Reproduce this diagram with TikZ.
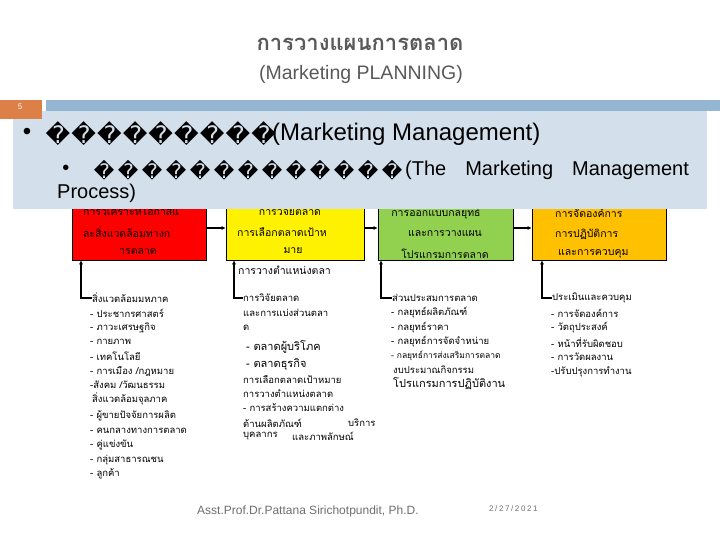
\documentclass[tikz,border=0pt]{standalone}
\usepackage{fontspec}
\setmainfont{Liberation Sans}
\newfontfamily\thai[Script=Thai]{Loma}
\newfontfamily\dvs{DejaVu Sans}
\usetikzlibrary{arrows.meta}
\definecolor{paneblue}{HTML}{D3DFEA}
\definecolor{barblue}{HTML}{94B6D2}
\definecolor{taborange}{HTML}{DD8047}
\definecolor{titlegrey}{HTML}{595959}
\definecolor{footgrey}{HTML}{6E6E6E}
\definecolor{boxgreen}{HTML}{92D050}
\definecolor{boxamber}{HTML}{FFC000}
\newcommand\tofu[1]{\makebox[#1]{\dvs\char"FFFD}}
\begin{document}
\begin{tikzpicture}[x=1pt,y=-1pt,
  th/.style={font=\thai\fontsize{9.5}{11}\selectfont, inner sep=0pt, anchor=west},
  thbig/.style={font=\thai\fontsize{11}{12}\selectfont, inner sep=0pt, anchor=west},
  thsmall/.style={font=\thai\fontsize{8.5}{10}\selectfont, inner sep=0pt, anchor=west},
  bt/.style={font=\thai\fontsize{10.5}{12}\selectfont, inner sep=0pt},
  stagebox/.style={draw=black, line width=0.6pt, minimum height=64pt, inner sep=0pt},
  link/.style={line width=1.6pt, -{Latex[length=4pt,width=4pt]}},
  ]
\useasboundingbox (0,0) rectangle (720,540);
% title
\node[font=\thai\bfseries\fontsize{22}{25}\selectfont, text=titlegrey] (title) at (360,44) {การวางแผนการตลาด};
\node[font=\fontsize{19.5}{22}\selectfont, text=titlegrey] (subtitle) at (361,74) {(Marketing PLANNING)};
% stage boxes
\node[stagebox, fill=red, minimum width=134pt] (b1) at (139,228) {};
\node[stagebox, fill=yellow, minimum width=138pt] (b2) at (295,228) {};
\node[stagebox, fill=boxgreen, minimum width=135pt] (b3) at (445.5,228) {};
\node[stagebox, fill=boxamber, minimum width=134pt] (b4) at (599,228) {};
\draw[link] (b1.east) -- (b2.west);
\draw[link] (b2.east) -- (b3.west);
\draw[link] (b3.east) -- (b4.west);
% box texts
\node[bt, anchor=west] (b1a) at (83,211) {การวิเคราะห์โอกาสแ};
\node[bt, anchor=west] (b1b) at (83,232) {ละสิ่งแวดล้อมทางก};
\node[bt] (b1c) at (138,252) {ารตลาด};
\node[bt] (b2a) at (290,211) {การวิจัยตลาด};
\node[bt, anchor=west] (b2b) at (237,232) {การเลือกตลาดเป้าห};
\node[bt] (b2c) at (293,251) {มาย};
\node[bt, anchor=west] (b2d) at (238,270) {การวางตำแหน่งตลา};
\node[bt] (b3a) at (436,213) {การออกแบบกลยุทธ์};
\node[bt] (b3b) at (445,234) {และการวางแผน};
\node[bt] (b3c) at (445,254) {โปรแกรมการตลาด};
\node[bt, anchor=west] (b4a) at (555,213) {การจัดองค์การ};
\node[bt, anchor=west] (b4b) at (555,234) {การปฏิบัติการ};
\node[bt, anchor=west] (b4c) at (558,254) {และการควบคุม};
% header panel
\fill[paneblue] (13,111) rectangle (707,209);
\fill[barblue] (46,100) rectangle (720,111);
\fill[taborange] (0,100) rectangle (42,119);
\node[font=\fontsize{8}{9}\selectfont, text=white, inner sep=0pt] (pnum) at (20,107) {5};
\node[font=\fontsize{24}{26}\selectfont, inner sep=0pt] (bul1) at (27,134) {•};
\node[font=\fontsize{24}{26}\selectfont, inner sep=0pt, anchor=west] (l1a) at (45,134) {\tofu{25.7pt}\tofu{25.7pt}\tofu{25.7pt}\tofu{25.7pt}\tofu{25.7pt}\tofu{25.7pt}\tofu{25.7pt}\tofu{25.7pt}\tofu{25.7pt}};
\node[font=\fontsize{24}{26}\selectfont, inner sep=0pt, anchor=west] (l1b) at (272,134) {(Marketing Management)};
\node[font=\fontsize{20}{22}\selectfont, inner sep=0pt] (bul2) at (66,170) {•};
\node[font=\fontsize{20}{22}\selectfont, inner sep=0pt, anchor=west] (l2a) at (92,170) {\tofu{24pt}\tofu{24pt}\tofu{24pt}\tofu{24pt}\tofu{24pt}\tofu{24pt}\tofu{24pt}\tofu{24pt}\tofu{24pt}\tofu{24pt}\tofu{24pt}\tofu{24pt}\tofu{24pt}};
\node[font=\fontsize{20}{22}\selectfont, inner sep=0pt, anchor=west] (l2b) at (405,170) {(The\hspace{19pt}Marketing\hspace{19pt}Management};
\node[font=\fontsize{20}{22}\selectfont, inner sep=0pt, anchor=west] (l2c) at (57,193) {Process)};
% column 1
\node[th] (h1) at (92,298) {สิ่งแวดล้อมมหภาค};
\node[th] (c1a) at (90,313) {- ประชากรศาสตร์};
\node[th] (c1b) at (90,328) {- ภาวะเศรษฐกิจ};
\node[th] (c1c) at (90,342) {- กายภาพ};
\node[th] (c1d) at (90,356) {- เทคโนโลยี};
\node[th] (c1e) at (90,371) {- การเมือง /กฎหมาย};
\node[th] (c1f) at (90,385) {-สังคม /วัฒนธรรม};
\node[th] (c1g) at (92,399) {สิ่งแวดล้อมจุลภาค};
\node[th] (c1h) at (90,416) {- ผู้ขายปัจจัยการผลิต};
\node[th] (c1i) at (90,431) {- คนกลางทางการตลาด};
\node[th] (c1j) at (90,445) {- คู่แข่งขัน};
\node[th] (c1k) at (90,460) {- กลุ่มสาธารณชน};
\node[th] (c1l) at (90,474) {- ลูกค้า};
% column 2
\node[th] (h2) at (243,298) {การวิจัยตลาด};
\node[th] (c2a) at (243,313) {และการแบ่งส่วนตลา};
\node[th] (c2b) at (243,328) {ด};
\node[thbig] (c2c) at (246,347) {- ตลาดผู้บริโภค};
\node[thbig] (c2d) at (246,365) {- ตลาดธุรกิจ};
\node[th] (c2e) at (243,380) {การเลือกตลาดเป้าหมาย};
\node[th] (c2f) at (243,394) {การวางตำแหน่งตลาด};
\node[th] (c2g) at (243,408) {- การสร้างความแตกต่าง};
\node[th] (c2h) at (243,423) {ด้านผลิตภัณฑ์};
\node[th] (c2i) at (348,423) {บริการ};
\node[th] (c2j) at (243,436) {บุคลากร};
\node[th] (c2k) at (292,436) {และภาพลักษณ์};
% column 3
\node[th] (h3) at (392,298) {ส่วนประสมการตลาด};
\node[th] (c3a) at (391,313) {- กลยุทธ์ผลิตภัณฑ์};
\node[th] (c3b) at (391,328) {- กลยุทธ์ราคา};
\node[th] (c3c) at (391,342) {- กลยุทธ์การจัดจำหน่าย};
\node[thsmall] (c3d) at (391,356) {- กลยุทธ์การส่งเสริมการตลาด};
\node[th] (c3e) at (393,370) {งบประมาณกิจกรรม};
\node[thbig] (c3f) at (393,384) {โปรแกรมการปฏิบัติงาน};
% column 4
\node[th] (h4) at (552,298) {ประเมินและควบคุม};
\node[th] (c4a) at (551,313) {- การจัดองค์การ};
\node[th] (c4b) at (551,328) {- วัตถุประสงค์};
\node[th] (c4c) at (551,343) {- หน้าที่รับผิดชอบ};
\node[th] (c4d) at (551,357) {- การวัดผลงาน};
\node[th] (c4e) at (551,372) {-ปรับปรุงการทำงาน};
% feedback connectors
\coordinate (k1) at (81,298);
\coordinate (k2) at (234,298);
\coordinate (k3) at (381,298);
\coordinate (k4) at (542,298);
\draw[link] (h1.west) -- (k1) -- (k1 |- b1.south);
\draw[link] (h2.west) -- (k2) -- (k2 |- b2.south);
\draw[link] (h3.west) -- (k3) -- (k3 |- b3.south);
\draw[link] (h4.west) -- (k4) -- (k4 |- b4.south);
% footer
\node[font=\fontsize{12}{14}\selectfont, text=footgrey, inner sep=0pt, anchor=west] (author) at (197,511) {Asst.Prof.Dr.Pattana Sirichotpundit, Ph.D.};
\node[font=\fontsize{8}{9}\selectfont\addfontfeatures{LetterSpace=20}, text=footgrey, inner sep=0pt, anchor=west] (date) at (489,509) {2/27/2021};
\end{tikzpicture}
\end{document}
